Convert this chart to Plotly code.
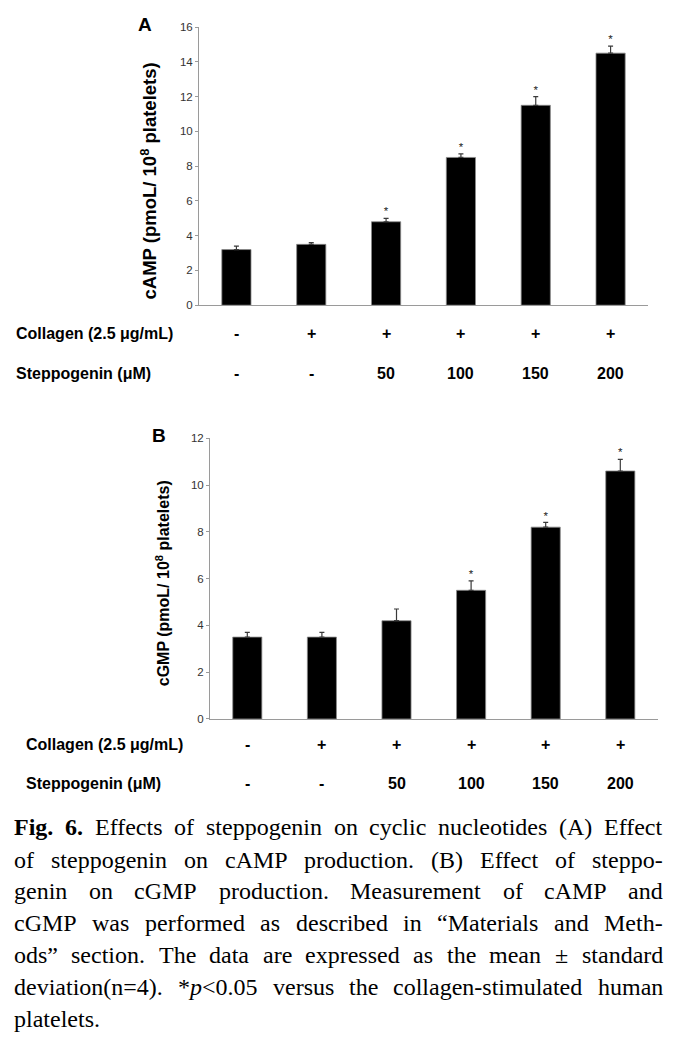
import plotly.graph_objects as go

# ---------------- data ----------------
collagen = ['-', '+', '+', '+', '+', '+']
steppogenin = ['-', '-', '50', '100', '150', '200']

camp_mean = [3.2, 3.5, 4.8, 8.5, 11.5, 14.5]
camp_sd = [0.2, 0.1, 0.2, 0.2, 0.5, 0.4]
camp_sig = [False, False, True, True, True, True]

cgmp_mean = [3.5, 3.5, 4.2, 5.5, 8.2, 10.6]
cgmp_sd = [0.2, 0.2, 0.5, 0.4, 0.2, 0.5]
cgmp_sig = [False, False, False, True, True, True]

yticks_a = [0, 2, 4, 6, 8, 10, 12, 14, 16]
yticks_b = [0, 2, 4, 6, 8, 10, 12]

row_labels = ['Collagen (2.5 μg/mL)', 'Steppogenin (μM)']
ytitle_a = 'cAMP (pmoL/ 10<sup>8</sup> platelets)'
ytitle_b = 'cGMP (pmoL/ 10<sup>8</sup> platelets)'

caption_lines = [
    "Fig. 6. Effects of steppogenin on cyclic nucleotides (A) Effect",
    "of steppogenin on cAMP production. (B) Effect of steppo-",
    "genin on cGMP production. Measurement of cAMP and",
    "cGMP was performed as described in “Materials and Meth-",
    "ods” section. The data are expressed as the mean ± standard",
    "deviation(n=4). *p<0.05 versus the collagen-stimulated human",
    "platelets.",
]

# ---------------- layout constants ----------------
W, H = 679, 1039
SANS = 'Liberation Sans, Arial, sans-serif'
SERIF = 'Liberation Serif, Times New Roman, serif'
AXC = '#9a9a9a'

def px(x):
    return x / W

def py(y):
    return 1 - y / H

xpos = list(range(len(collagen)))

fig = go.Figure()

def add_panel(means, sds, sig, xa, ya):
    fig.add_trace(go.Bar(
        x=xpos, y=means, width=0.39,
        marker=dict(color='black', line=dict(color='#8a8a8a', width=0.8)),
        error_y=dict(type='data', array=sds, arrayminus=[0] * len(sds),
                     symmetric=False, color='#3a3a3a', thickness=1.2, width=2.5),
        xaxis=xa, yaxis=ya, showlegend=False, hoverinfo='skip'))
    idx = [i for i in xpos if sig[i]]
    fig.add_trace(go.Scatter(
        x=idx, y=[means[i] + sds[i] for i in idx],
        text=['*' for _ in idx],
        mode='text', textposition='top center',
        textfont=dict(family=SANS, size=11.5, color='#222'),
        xaxis=xa, yaxis=ya, showlegend=False, hoverinfo='skip'))

add_panel(camp_mean, camp_sd, camp_sig, 'x', 'y')
add_panel(cgmp_mean, cgmp_sd, cgmp_sig, 'x2', 'y2')

xcommon = dict(range=[-0.5, 5.5], showline=True, linecolor=AXC, linewidth=1,
               showticklabels=False, ticks='', showgrid=False, zeroline=False,
               fixedrange=True)
ycommon = dict(showline=True, linecolor=AXC, linewidth=1, ticks='outside',
               ticklen=3, tickcolor=AXC, showgrid=False, zeroline=False,
               tickfont=dict(family=SANS, size=11.5, color='#333'))

fig.update_layout(
    width=W, height=H, margin=dict(l=0, r=0, t=0, b=0),
    paper_bgcolor='white', plot_bgcolor='white', bargap=0.6,
    xaxis=dict(domain=[px(199), px(648)], anchor='y', **xcommon),
    yaxis=dict(domain=[py(302.7), py(21.3)], anchor='x', range=[0, 16],
               tickvals=yticks_a, **ycommon),
    xaxis2=dict(domain=[px(210), px(657.6)], anchor='y2', **xcommon),
    yaxis2=dict(domain=[py(721.3), py(437.3)], anchor='x2', range=[0, 12],
                tickvals=yticks_b, **ycommon),
)

ann = []
# panel letters
ann.append(dict(text='<b>A</b>', x=px(145), y=py(18.5), xref='paper', yref='paper',
                xanchor='center', yanchor='middle', showarrow=False,
                font=dict(family=SANS, size=19, color='black')))
ann.append(dict(text='<b>B</b>', x=px(158.5), y=py(435), xref='paper', yref='paper',
                xanchor='center', yanchor='middle', showarrow=False,
                font=dict(family=SANS, size=19, color='black')))
# y titles
ann.append(dict(text='<b>' + ytitle_a + '</b>', x=px(149), y=py(177.5), xref='paper',
                yref='paper', xanchor='center', yanchor='middle', textangle=-90,
                showarrow=False, font=dict(family=SANS, size=18.5, color='black')))
ann.append(dict(text='<b>' + ytitle_b + '</b>', x=px(163), y=py(584), xref='paper',
                yref='paper', xanchor='center', yanchor='middle', textangle=-90,
                showarrow=False, font=dict(family=SANS, size=16, color='black')))

# condition rows
def add_rows(xref, xleft, ys):
    for lab, y, vals in zip(row_labels, ys, [collagen, steppogenin]):
        ann.append(dict(text='<b>' + lab + '</b>', x=px(xleft), y=py(y), xref='paper',
                        yref='paper', xanchor='left', yanchor='middle', showarrow=False,
                        font=dict(family=SANS, size=16, color='black')))
        for xi, v in zip(xpos, vals):
            ann.append(dict(text='<b>' + v + '</b>', x=xi, y=py(y), xref=xref,
                            yref='paper', xanchor='center', yanchor='middle',
                            showarrow=False,
                            font=dict(family=SANS, size=16, color='black')))

add_rows('x', 14, [331.7, 371.7])
add_rows('x2', 24, [746.7, 786.7])

# caption, justified word by word
TIMES = {' ': 250, 'a': 444, 'b': 500, 'c': 444, 'd': 500, 'e': 444, 'f': 333, 'g': 500,
         'h': 500, 'i': 278, 'j': 278, 'k': 500, 'l': 278, 'm': 778, 'n': 500, 'o': 500,
         'p': 500, 'q': 500, 'r': 333, 's': 389, 't': 278, 'u': 500, 'v': 500, 'w': 722,
         'x': 500, 'y': 500, 'z': 444, 'A': 722, 'B': 667, 'C': 667, 'D': 722, 'E': 611,
         'F': 556, 'G': 722, 'H': 722, 'I': 333, 'M': 889, 'P': 556, 'T': 611,
         '.': 250, ',': 250, '(': 333, ')': 333, '-': 333, '=': 564, '*': 500, '<': 564,
         '±': 564, '“': 444, '”': 444}
for d in '0123456789':
    TIMES[d] = 500
BOLD = dict(TIMES, F=611)

FS = 24
CL, CR = 13, 662
line_mid = [831, 863.5, 895.5, 928, 960, 992.5, 1025]

def word_fmt(li, w):
    if li == 0 and w in ('Fig.', '6.'):
        return '<b>' + w + '</b>', BOLD
    if w.startswith('*p'):
        return '*<i>p</i>&lt;' + w[3:], TIMES
    return w, TIMES

for li, line in enumerate(caption_lines):
    words = line.split(' ')
    fmts = [word_fmt(li, w) for w in words]
    widths = [sum(tab.get(ch, 500) for ch in w) * FS / 1000 for w, (_, tab) in zip(words, fmts)]
    if li < len(caption_lines) - 1 and len(words) > 1:
        gap = (CR - CL - sum(widths)) / (len(words) - 1)
    else:
        gap = 250 * FS / 1000
    x = CL
    for (txt, _), wd in zip(fmts, widths):
        ann.append(dict(text=txt, x=px(x), y=py(line_mid[li]), xref='paper', yref='paper',
                        xanchor='left', yanchor='middle', showarrow=False, borderpad=0,
                        font=dict(family=SERIF, size=FS, color='black')))
        x += wd + gap

fig.update_layout(annotations=ann)
fig.write_html('out.html', config={'displayModeBar': False},
               post_script="document.body.style.margin='0';")
